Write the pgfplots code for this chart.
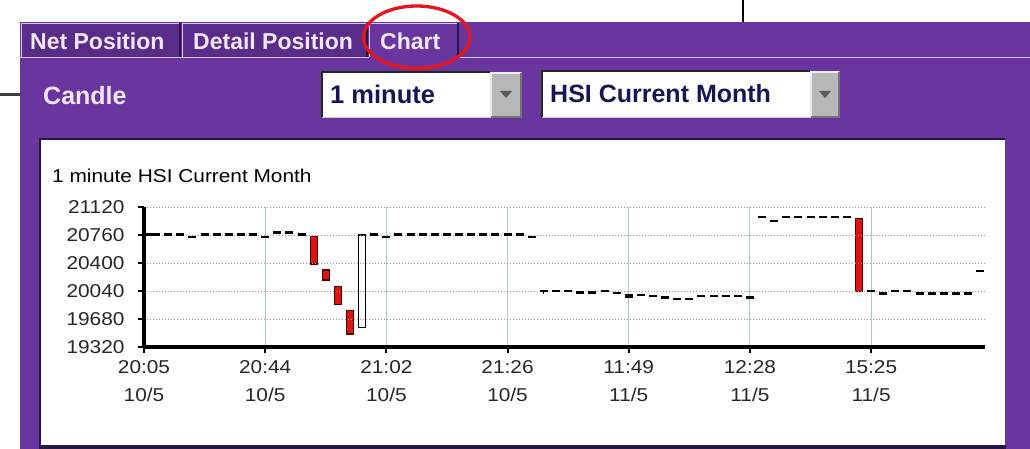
\documentclass[border=0pt]{standalone}
\usepackage{pgfplots}
\pgfplotsset{compat=1.18}
\usepackage{fontspec}
\setmainfont{Liberation Sans}
\newfontfamily\chartfont[FakeStretch=1.12]{Liberation Sans}
\definecolor{panelpurple}{RGB}{104,54,158}
\definecolor{tabpurple}{RGB}{90,44,138}
\definecolor{tablight}{RGB}{214,200,236}
\definecolor{tabdark}{RGB}{40,22,70}
\definecolor{uitext}{RGB}{240,232,248}
\definecolor{navy}{RGB}{22,22,84}
\definecolor{btngray}{RGB}{184,184,184}
\definecolor{gridblue}{RGB}{170,200,208}
\definecolor{gridgray}{RGB}{150,150,150}
\definecolor{candlered}{RGB}{220,20,20}
\definecolor{ellipsered}{RGB}{230,20,28}
\begin{document}
\begin{tikzpicture}
\useasboundingbox (0pt,0pt) rectangle (1030pt,449pt);
\fill[white] (0pt,0pt) rectangle (1030pt,449pt);
\begin{scope}[x=1pt,y=-1pt,shift={(0pt,449pt)}]
  \draw[black, line width=2] (743,0) -- (743,22);
  \draw[black!75, line width=3] (0,95) -- (20,95);
  \fill[panelpurple] (20,22) rectangle (1030,449);
  % tabs
  \fill[tabpurple] (21,23) rectangle (180,57);
  \fill[tabpurple] (181,23) rectangle (368,57);
  \draw[tablight, line width=1.5] (21.5,57) -- (21.5,23.5) -- (180,23.5);
  \draw[tabdark, line width=1.5] (180,23.5) -- (180,57);
  \draw[tablight, line width=1.5] (182.5,57) -- (182.5,23.5) -- (367,23.5);
  \draw[tabdark, line width=1.5] (367,23.5) -- (367,57);
  \draw[tablight, line width=1.5] (369.5,57.5) -- (369.5,23.5) -- (457,23.5);
  \draw[tabdark, line width=1.5] (458,23.5) -- (458,57.5);
  \draw[tablight, line width=1.5] (20,57.5) -- (369,57.5);
  \draw[tablight, line width=1.5] (458,57.5) -- (1030,57.5);
  \node[anchor=base west, inner sep=0, text=uitext, font=\bfseries\fontsize{23}{27}\selectfont] at (30,49.5) {Net Position};
  \node[anchor=base west, inner sep=0, text=uitext, font=\bfseries\fontsize{23}{27}\selectfont] at (193,49.5) {Detail Position};
  \node[anchor=base west, inner sep=0, text=uitext, font=\bfseries\fontsize{23}{27}\selectfont] at (380,49.5) {Chart};
  % Candle label
  \node[anchor=base west, inner sep=0, text=uitext, font=\bfseries\fontsize{25}{30}\selectfont] at (43,104.3) {Candle};
  % dropdown 1
  \fill[white] (322,72) rectangle (490,118);
  \draw[black!85, line width=2] (322,118) -- (322,72) -- (490,72);
  \draw[black!20, line width=1.5] (322,117.5) -- (490,117.5);
  \fill[btngray] (490,72) rectangle (522,118);
  \draw[white!85!gray, line width=1.5] (491,117) -- (491,73) -- (521,73);
  \draw[black!55, line width=1.5] (521,73) -- (521,117) -- (491,117);
  \fill[black!65] (500,91) -- (512,91) -- (506,98) -- cycle;
  \node[anchor=base west, inner sep=0, text=navy, font=\bfseries\fontsize{25.5}{30}\selectfont] at (330,103.3) {1 minute};
  % dropdown 2
  \fill[white] (542,71) rectangle (810,118);
  \draw[black!85, line width=2] (542,118) -- (542,71) -- (810,71);
  \draw[black!20, line width=1.5] (542,117.5) -- (810,117.5);
  \fill[btngray] (810,71) rectangle (840,118);
  \draw[white!85!gray, line width=1.5] (811,117) -- (811,72) -- (839,72);
  \draw[black!55, line width=1.5] (839,72) -- (839,117) -- (811,117);
  \fill[black!65] (819,91) -- (831,91) -- (825,98) -- cycle;
  \node[anchor=base west, inner sep=0, text=navy, font=\bfseries\fontsize{25}{30}\selectfont] at (550,103) {HSI Current Month};
  % chart box
  \fill[white] (40,139) rectangle (1005,445);
  \draw[tabdark, line width=2.5] (40,445) -- (40,139) -- (1005,139);
  \fill[tabdark] (38.75,445) rectangle (1006,449);
  \node[anchor=base west, inner sep=0, font=\chartfont\fontsize{18.6}{22}\selectfont] at (52,183) {1 minute HSI Current Month};
  % ellipse
  \draw[ellipsered, line width=3.3] (416.7,37.2) ellipse [x radius=53.3pt, y radius=31.2pt];
\end{scope}
\begin{axis}[
  at={(144pt,102pt)}, anchor=south west,
  scale only axis, width=841pt, height=139.5pt,
  xmin=0, xmax=69.4, ymin=19320, ymax=21120,
  axis x line*=bottom, axis y line*=left,
  separate axis lines,
  axis line style={line width=4pt, black},
  x axis line style={line width=4pt},
  y axis line style={line width=4pt},
  axis on top,
  scaled y ticks=false,
  xtick={0,10,20,30,40,50,60},
  xticklabels={{20:05\\10/5},{20:44\\10/5},{21:02\\10/5},{21:26\\10/5},{11:49\\11/5},{12:28\\11/5},{15:25\\11/5}},
  ytick={19320,19680,20040,20400,20760,21120},
  yticklabels={19320,19680,20040,20400,20760,21120},
  xtick pos=left, ytick pos=left,
  tick align=outside, major tick length=6pt,
  tick style={black, line width=2pt},
  xmajorgrids, ymajorgrids,
  x grid style={gridblue, line width=1pt, solid},
  y grid style={gridgray, line width=1pt, dotted},
  ticklabel style={font=\chartfont\fontsize{18.6}{28}\selectfont, text=black!85},
  xticklabel style={align=center, yshift=-4pt},
  yticklabel style={xshift=-10pt},
  clip=false,
]
% flat candles (open = close)
\addplot[only marks, mark=-, mark size=4pt, mark options={line width=2.4pt, black}] coordinates {
(0.3,20774) (1,20774) (2,20774) (3,20774) (4,20740) (5,20774) (6,20774) (7,20774) (8,20774) (9,20774)
(10,20740) (11,20795) (12,20795) (13,20774)
(19,20770) (20,20740) (21,20770) (22,20770) (23,20770) (24,20770) (25,20770) (26,20770) (27,20770)
(28,20770) (29,20770) (30,20770) (31,20770) (32,20740)
(33,20045) (34,20045) (35,20045) (38,20045) (39,20015) (41,19990) (42,19975) (43,19960) (44,19940)
(45,19940) (46,19980) (47,19980) (48,19980) (49,19980) (50,19960)
(51,21000) (52,20945) (53,21000) (54,21000) (55,21000) (56,21000) (57,21000) (58,21000)
(60,20045) (61,20010) (62,20045) (63,20045) (64,20010) (65,20010) (66,20010) (67,20010) (68,20010)
(69,20300)
};
% small-bodied candles
\addplot[only marks, mark=-, mark size=4pt, mark options={line width=3.8pt, black}] coordinates {
(36,20022) (37,20022) (40,19973)
};
\addplot[black, line width=1pt] coordinates {(33,20045) (33,20002)};
% red (falling) candles
\addplot[draw=black!70!red, fill=candlered, line width=1.2pt] coordinates {(13.71,20743) (14.29,20743) (14.29,20391) (13.71,20391)} -- cycle;
\addplot[draw=black!70!red, fill=candlered, line width=1.2pt] coordinates {(14.71,20314) (15.29,20314) (15.29,20185) (14.71,20185)} -- cycle;
\addplot[draw=black!70!red, fill=candlered, line width=1.2pt] coordinates {(15.71,20098) (16.29,20098) (16.29,19871) (15.71,19871)} -- cycle;
\addplot[draw=black!70!red, fill=candlered, line width=1.2pt] coordinates {(16.71,19789) (17.29,19789) (17.29,19488) (16.71,19488)} -- cycle;
\addplot[draw=black!70!red, fill=candlered, line width=1.2pt] coordinates {(58.7,20981) (59.3,20981) (59.3,20034) (58.7,20034)} -- cycle;
% white (rising) candle
\addplot[draw=black, fill=white, line width=1.2pt] coordinates {(17.73,20765) (18.27,20765) (18.27,19572) (17.73,19572)} -- cycle;
\end{axis}
\end{tikzpicture}
\end{document}
